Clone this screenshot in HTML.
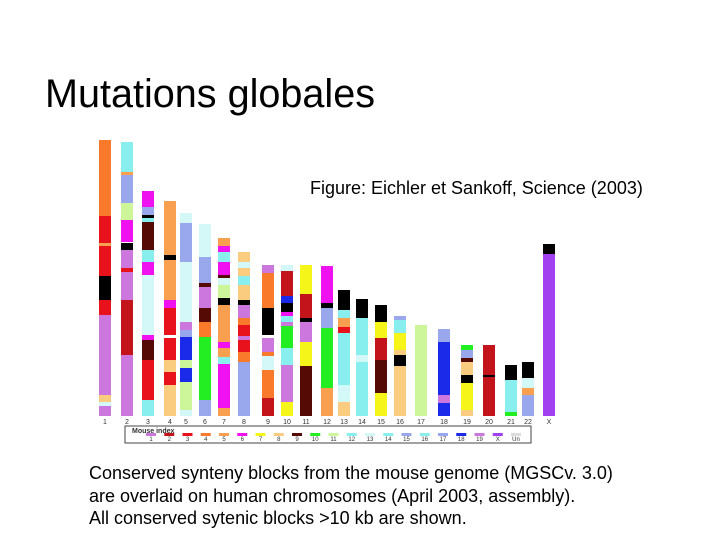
<!DOCTYPE html>
<html><head><meta charset="utf-8"><style>
body{margin:0;background:#fff;width:720px;height:540px;overflow:hidden;position:relative;font-family:"Liberation Sans",sans-serif}
.t{position:absolute;color:#000;white-space:nowrap}
</style></head><body>
<div class="t" style="left:45px;top:72px;font-size:39.6px">Mutations globales</div>
<div class="t" style="left:310px;top:178px;font-size:18px">Figure: Eichler et Sankoff, Science (2003)</div>
<div class="t" style="left:89px;top:462px;font-size:18px;line-height:22.5px">Conserved synteny blocks from the mouse genome (MGSCv. 3.0)<br>are overlaid on human chromosomes (April 2003, assembly).<br>All conserved sytenic blocks &gt;10 kb are shown.</div>
<svg id="fig" width="720" height="540" style="position:absolute;left:0;top:0"></svg>
<script>
const C={o:'#f97a2a',O:'#f9a050',r:'#e8121c',R:'#c3141c',v:'#cc77dd',m:'#f011f0',c:'#88eeee',L:'#d4f8f8',p:'#99a8ec',g:'#22ee22',G:'#cdf59a',y:'#f5f51a',t:'#f9cc80',d:'#560a06',b:'#1a2ae8',k:'#000000',P:'#a040ee'};
const chromLabels=['1','2','3','4','5','6','7','8','9','10','11','12','13','14','15','16','17','18','19','20','21','22','X'];
const chromX=[99,121,142,164,180,199,218,238,262,281,300,321,338,356,375,394,415,438,461,483,505,522,543];
const chromBlocks=[
[['o',140,216],['r',216,243],['O',243,246],['r',246,276],['k',276,300],['r',300,315],['v',315,395],['t',395,402],['L',402,406],['v',406,416]],
[['c',142,172],['O',172,175],['p',175,203],['G',203,220],['m',220,242],['k',243,250],['v',250,268],['r',268,272],['v',272,300],['R',300,355],['v',355,416]],
[['m',191,207],['p',207,215],['k',215,218],['c',218,222],['d',222,250],['c',250,262],['m',262,275],['L',275,335],['m',335,340],['d',340,360],['r',360,400],['c',400,416]],
[['O',201,255],['k',255,260],['O',260,300],['m',300,308],['r',308,335],['r',338,360],['t',360,372],['r',372,385],['t',385,416]],
[['L',213,223],['p',223,262],['L',262,322],['v',322,330],['p',330,337],['b',337,360],['G',360,368],['b',368,382],['G',382,410],['L',410,416]],
[['L',224,257],['p',257,283],['d',283,287],['v',287,308],['d',308,322],['o',322,337],['g',337,400],['p',400,416]],
[['O',238,246],['m',246,252],['c',252,262],['m',262,275],['d',275,278],['L',278,285],['G',285,298],['k',298,305],['O',305,342],['m',342,348],['O',348,357],['c',357,364],['m',364,408],['O',408,416]],
[['t',252,262],['L',262,268],['t',268,276],['c',276,285],['t',285,300],['k',300,305],['v',305,318],['o',318,325],['r',325,336],['v',336,340],['r',340,352],['o',352,362],['p',362,416]],
[['v',265,273],['o',273,308],['k',308,335],['v',338,352],['o',352,356],['L',356,370],['o',370,398],['R',398,416]],
[['L',265,271],['R',271,296],['b',296,303],['k',303,312],['m',312,316],['c',316,322],['v',322,326],['g',326,348],['c',348,365],['v',365,402],['y',402,416]],
[['y',265,294],['R',294,318],['k',318,322],['v',322,342],['y',342,366],['d',366,416]],
[['m',266,303],['k',303,308],['p',308,328],['g',328,388],['O',388,416]],
[['k',290,310],['c',310,318],['O',318,327],['r',327,333],['c',333,385],['L',385,402],['t',402,416]],
[['k',299,318],['c',318,355],['L',355,362],['c',362,416]],
[['k',305,322],['y',322,338],['R',338,360],['d',360,393],['y',393,416]],
[['p',316,320],['c',320,333],['y',333,350],['t',350,355],['k',355,366],['t',366,416]],
[['G',325,416]],
[['p',329,342],['b',342,395],['v',395,403],['b',403,416]],
[['g',345,350],['p',350,358],['d',358,362],['t',362,375],['k',375,383],['y',383,410],['t',410,416]],
[['R',345,375],['k',375,377],['R',377,416]],
[['k',365,380],['c',380,412],['g',412,416]],
[['k',362,378],['L',378,388],['O',388,395],['p',395,416]],
[['k',244,254],['P',254,416]]];
const legendLabels=['1','2','3','4','5','6','7','8','9','10','11','12','13','14','15','16','17','18','19','X','Un'];
const legendColors=['v','R','r','o','O','m','y','t','d','g','G','c','L','c','p','c','p','b','v','P','#ddd'];
const NS='http://www.w3.org/2000/svg',svg=document.getElementById('fig');
function mk(t,a){const e=document.createElementNS(NS,t);for(const k in a)e.setAttribute(k,a[k]);svg.appendChild(e);return e;}
const W=12;
chromBlocks.forEach((bl,i)=>{
 bl.forEach(s=>{
  const e=mk('rect',{x:chromX[i],y:s[1],width:W,height:s[2]-s[1],fill:C[s[0]]});
  
  
 });
 const l=mk('text',{x:chromX[i]+W/2,y:424,'font-size':7,'text-anchor':'middle',fill:'#333','font-family':'Liberation Sans'});
 l.textContent=chromLabels[i];
 
 
});
const box=mk('rect',{x:125,y:426,width:406,height:17,fill:'#fff',stroke:'#444','stroke-width':1});


const lt=mk('text',{x:132,y:433,'font-size':7,'font-weight':'bold',fill:'#333','font-family':'Liberation Sans'});
lt.textContent='Mouse index';


legendLabels.forEach((lb,i)=>{
 const x=151+i*18.25;
 const col=C[legendColors[i]]||legendColors[i];
 const s=mk('rect',{x:x-5,y:433,width:10,height:3,fill:col});
 
 
 const t=mk('text',{x:x,y:441,'font-size':6,'text-anchor':'middle',fill:'#333','font-family':'Liberation Sans'});
 t.textContent=lb;
 
 
});
</script>
</body></html>
